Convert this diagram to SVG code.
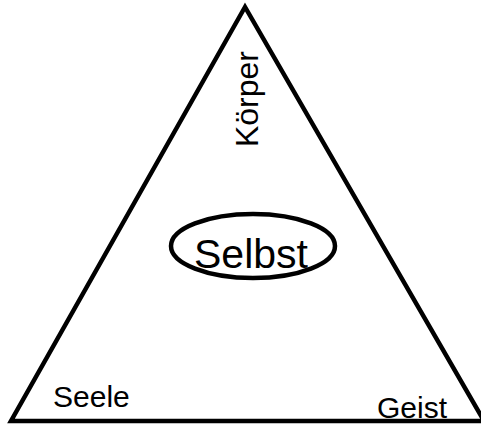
<svg xmlns="http://www.w3.org/2000/svg" width="481" height="424" viewBox="0 0 481 424">
<style>
.lbl{font-family:"Liberation Sans",Arial,sans-serif;font-size:30px;fill:#000}
.edge{fill:none;stroke:#000;stroke-width:4.5;stroke-linejoin:miter}
</style>
<rect width="481" height="424" fill="#fff"/>
<g id="connectors">
<polygon class="edge" points="245,7 11,421 484,421"/>
</g>
<g id="koerper"><text class="lbl" transform="translate(258,99) rotate(-90)" text-anchor="middle" style="font-size:32px">Körper</text></g>
<g id="selbst">
<ellipse cx="253" cy="246" rx="82" ry="32" fill="none" stroke="#000" stroke-width="4.5"/>
<text class="lbl" x="251" y="268" text-anchor="middle" style="font-size:41px">Selbst</text>
</g>
<g id="seele"><text class="lbl" x="53" y="407">Seele</text></g>
<g id="geist"><text class="lbl" x="377" y="418">Geist</text></g>
</svg>
